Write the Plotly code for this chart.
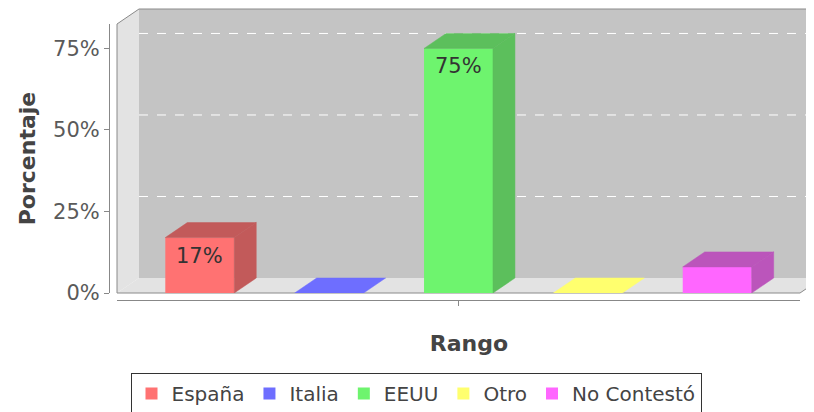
import plotly.graph_objects as go

# datos
series = ["España", "Italia", "EEUU", "Otro", "No Contestó"]
valores = [17, 0, 75, 0, 8]
colores_frente = ["#FF7272", "#6E6EFF", "#6EF46E", "#FFFF6E", "#FF66FF"]
colores_lado = ["#C25A5A", "#5A5AC8", "#5CBF5C", "#C8C85A", "#BB55BB"]
ticks_y = [0, 25, 50, 75]
etiquetas_y = ["0%", "25%", "50%", "75%"]

# la página tiene 8 px de margen en el body
OFF = 8
W, H = 814 - OFF, 412 - OFF
ML, MR, MT, MB = 109 - OFF, 14, 24 - OFF, 112
PW, PH = W - ML - MR, H - MT - MB

XR = [-0.64, 4.64]
YR = [0, 82.5]
XDOM = [8 / PW, 1]
YDOM = [7 / PH, 1]
DX, DY = 0.17, 4.6  # profundidad 3D en unidades de datos
ANCHO = 0.533


def px(xd):
    return XDOM[0] + (xd - XR[0]) / (XR[1] - XR[0]) * (XDOM[1] - XDOM[0])


def py(yd):
    return YDOM[0] + (yd - YR[0]) / (YR[1] - YR[0]) * (YDOM[1] - YDOM[0])


def path(pts, cerrar=True):
    p = "M " + " L ".join(f"{px(a):.5f},{py(b):.5f}" for a, b in pts)
    return p + " Z" if cerrar else p


fig = go.Figure()

# caras frontales
for i, (s, v) in enumerate(zip(series, valores)):
    fig.add_trace(go.Bar(
        x=[i], y=[v], width=ANCHO, name=s,
        marker=dict(color=colores_frente[i], line=dict(width=0)),
        hoverinfo="skip",
    ))
    # etiqueta solo si cabe en la barra
    if v >= 10:
        fig.add_annotation(x=i, y=v, text=f"{v}%", showarrow=False,
                           yanchor="top", yshift=-4,
                           font=dict(color="#333333", size=21))

# caras superior y lateral
for i, v in enumerate(valores):
    x0, x1 = i - ANCHO / 2, i + ANCHO / 2
    c_top = colores_lado[i] if v > 0 else colores_frente[i]
    fig.add_trace(go.Scatter(
        x=[x0, x1, x1 + DX, x0 + DX, x0], y=[v, v, v + DY, v + DY, v],
        mode="lines", fill="toself", fillcolor=c_top,
        line=dict(width=0.5, color=c_top), showlegend=False, hoverinfo="skip",
    ))
    if v > 0:
        fig.add_trace(go.Scatter(
            x=[x1, x1 + DX, x1 + DX, x1, x1], y=[0, DY, v + DY, v, 0],
            mode="lines", fill="toself", fillcolor=colores_lado[i],
            line=dict(width=0.5, color=colores_lado[i]), showlegend=False,
            hoverinfo="skip",
        ))

# paredes y suelo
XE = XR[1] + DX + 0.2
shapes = [
    dict(type="path", xref="paper", yref="paper", layer="below",
         path=path([(XR[0] + DX, DY), (XE, DY), (XE, YR[1] + DY), (XR[0] + DX, YR[1] + DY)]),
         fillcolor="#C4C4C4", line=dict(width=0)),
    dict(type="path", xref="paper", yref="paper", layer="below",
         path=path([(XR[0], 0), (XR[0], YR[1]), (XR[0] + DX, YR[1] + DY), (XR[0] + DX, DY)]),
         fillcolor="#E3E3E3", line=dict(width=0)),
    dict(type="path", xref="paper", yref="paper", layer="below",
         path=path([(XR[0], 0), (XR[1], 0), (XR[1] + DX, DY), (XR[0] + DX, DY)]),
         fillcolor="#E3E3E3", line=dict(width=0)),
]
for t in ticks_y[1:]:
    shapes.append(dict(type="line", xref="paper", yref="paper", layer="below",
                       x0=px(XR[0] + DX), x1=px(XE), y0=py(t + DY), y1=py(t + DY),
                       line=dict(color="white", width=1, dash="dash")))
shapes.append(dict(type="path", xref="paper", yref="paper", layer="below",
                   path=path([(XR[0], 0), (XR[0], YR[1]), (XR[0] + DX, YR[1] + DY), (XE, YR[1] + DY)], False),
                   line=dict(color="#8A8A8A", width=1)))
shapes.append(dict(type="path", xref="paper", yref="paper", layer="below",
                   path=path([(XR[0], 0), (XR[1], 0), (XR[1] + DX, DY)], False),
                   line=dict(color="#8A8A8A", width=1)))

fig.update_layout(
    width=W, height=H,
    margin=dict(l=ML, r=MR, t=MT, b=MB, autoexpand=False),
    paper_bgcolor="white", plot_bgcolor="white",
    font=dict(family="DejaVu Sans", size=21, color="#5A5A5A"),
    showlegend=True, barmode="overlay",
    shapes=shapes,
    xaxis=dict(domain=XDOM, range=XR, anchor="free", position=0, automargin=False,
               showgrid=False, zeroline=False, showline=True, linecolor="#888888",
               tickvals=[2], ticktext=[""], ticks="outside", ticklen=5, tickcolor="#888888",
               title=dict(text="&nbsp;&nbsp;&nbsp;<b>Rango</b>", font=dict(size=22, color="#444444"),
                          standoff=26)),
    yaxis=dict(domain=YDOM, range=YR, anchor="free", position=0, automargin=False,
               showgrid=False, zeroline=False, showline=True, linecolor="#888888",
               tickvals=ticks_y, ticktext=etiquetas_y, ticks="outside", ticklen=5,
               tickcolor="#888888",
               title=dict(text="<b>Porcentaje</b>", font=dict(size=22, color="#444444"), standoff=10)),
    legend=dict(orientation="h", x=(416 - 109) / PW, xanchor="center",
                y=(300 - 373) / PH, yanchor="top",
                bordercolor="#333333", borderwidth=1, bgcolor="white",
                font=dict(size=20, color="#444444"), itemwidth=30),
)

fig.write_html("out.html")
